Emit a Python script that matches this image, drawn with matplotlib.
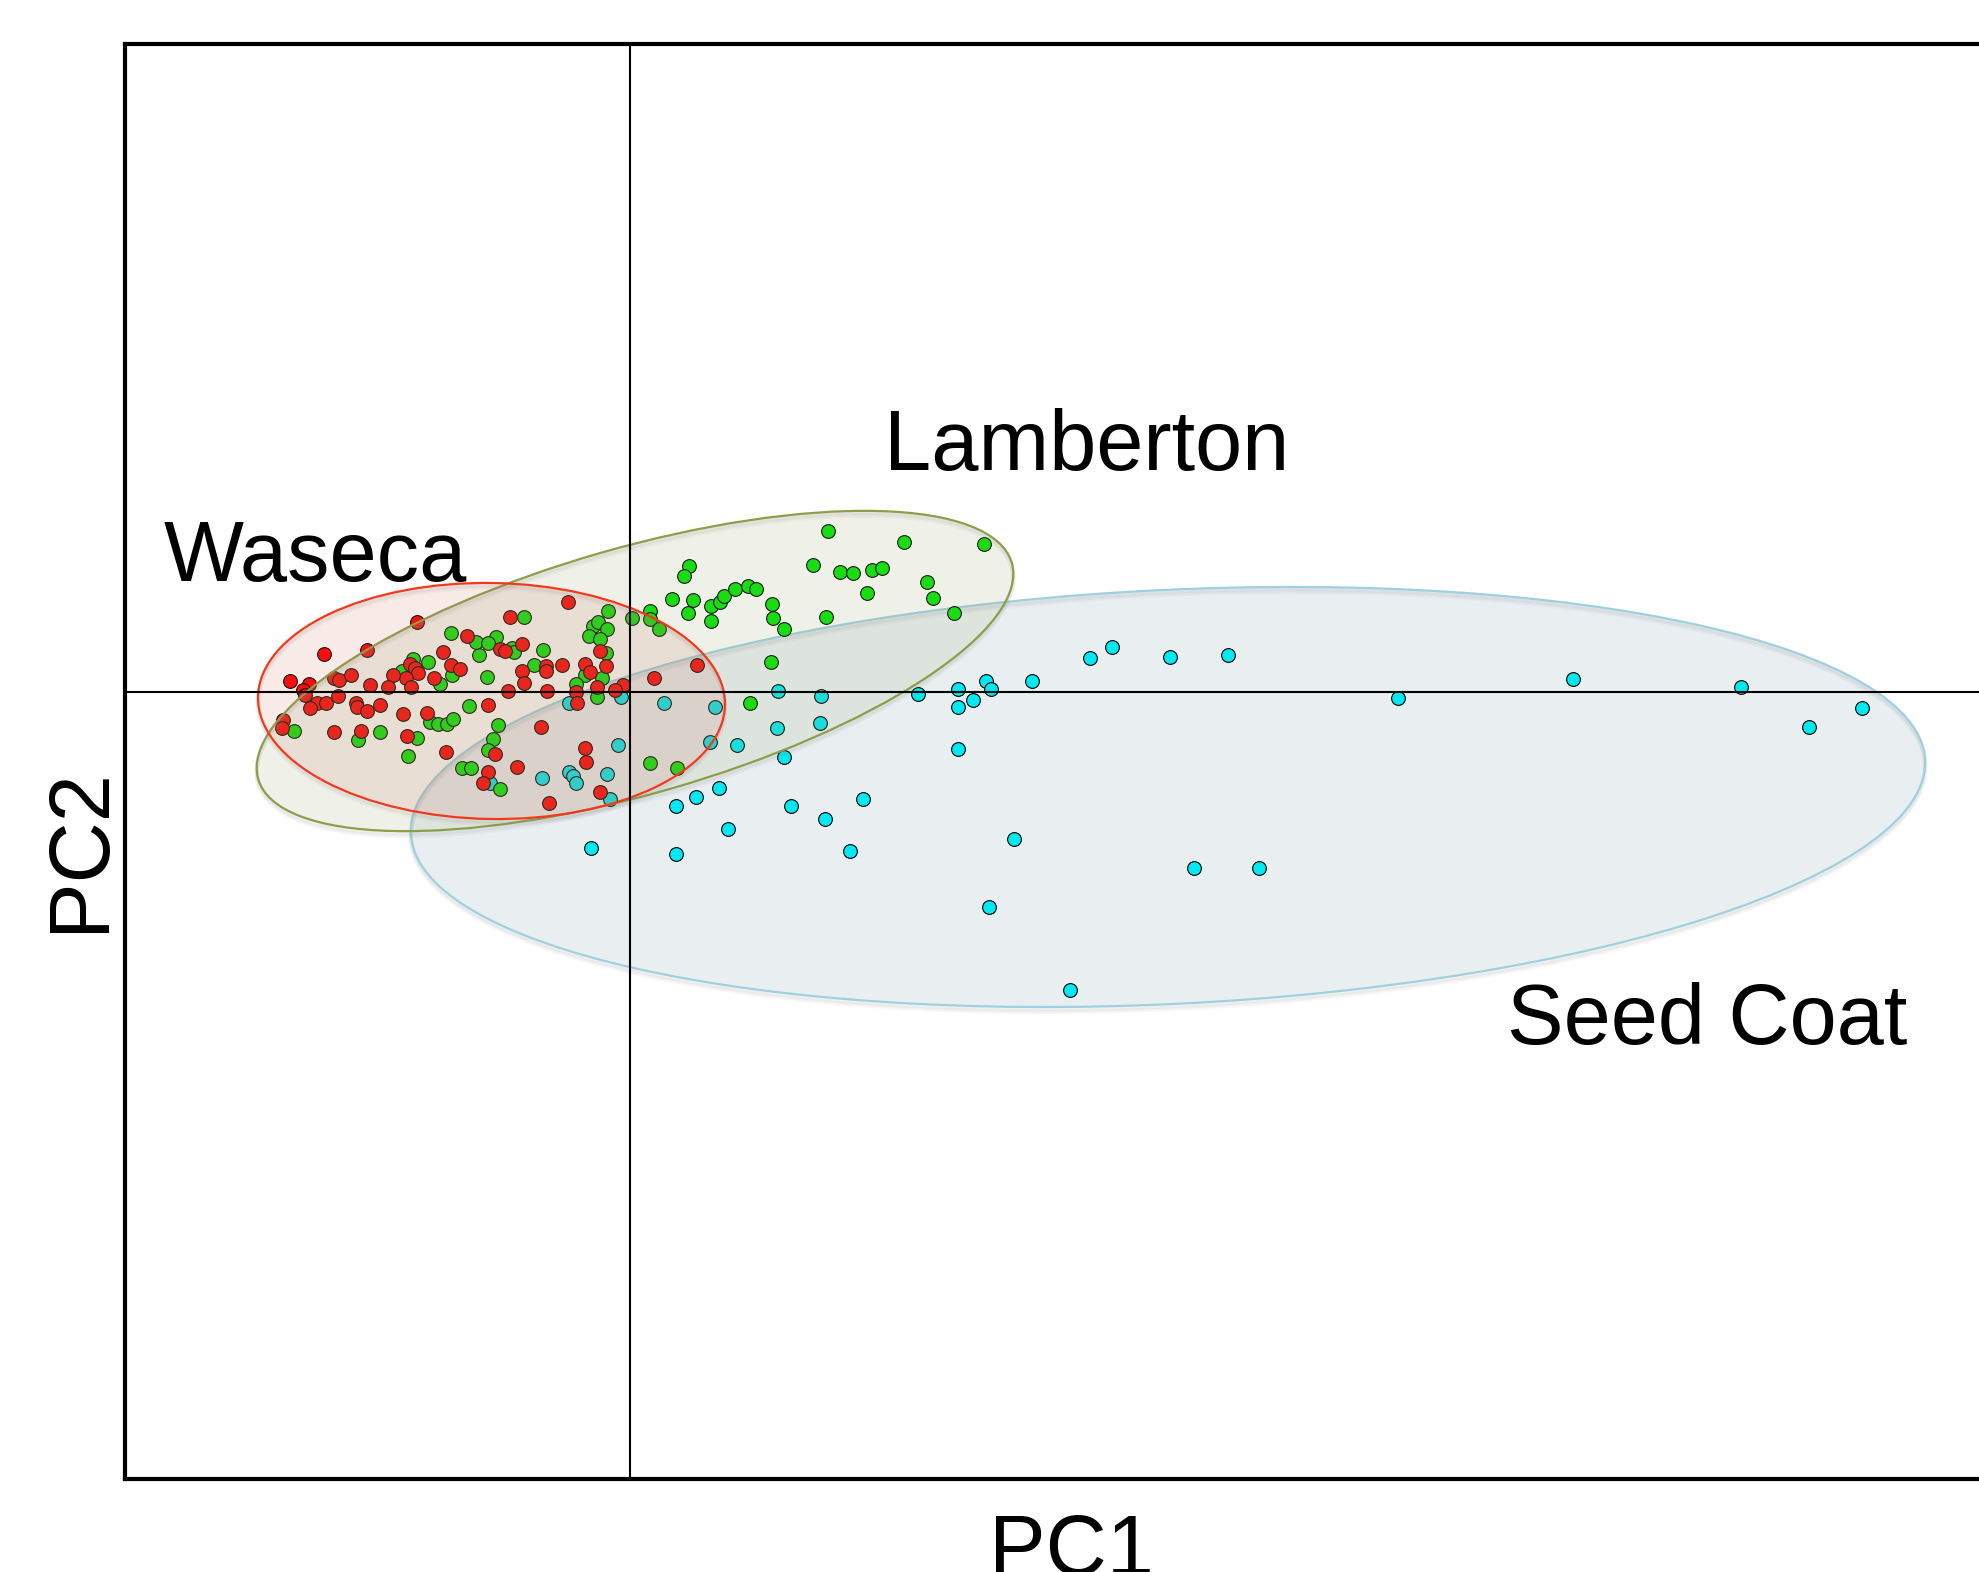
import matplotlib.pyplot as plt
from matplotlib.patches import Ellipse

# PCA scores (arbitrary PC units)
waseca_pc1 = [-0.62, -1.20, -2.13, -3.06, -2.63, -1.87, -1.63, -1.08, -1.30, -1.25,
              -0.30, -2.20, -2.15, -2.12, -1.79, -1.70, -1.96, -2.24, -2.19, -2.37,
              -3.40, -3.21, -2.96, -2.91, -2.79, -2.60, -2.42, -1.08, -0.84, -0.84,
              -0.68, -0.45, -0.40, -0.24, -1.06, -1.22, -0.83, -0.54, -0.33, -0.07,
              -0.15, 0.24, 0.67, -3.27, -3.25, -2.92, -3.13, -3.04, -3.20, -2.74,
              -2.73, -2.63, -2.50, -2.27, -2.03, -1.42, -0.53, -3.47, -3.48, -2.96,
              -2.69, -2.23, -1.84, -0.89, -0.45, -0.44, -1.35, -1.42, -1.47, -1.13,
              -0.30, -0.81]
waseca_pc2 = [0.90, 0.75, 0.70, 0.38, 0.42, 0.40, 0.56, 0.48, 0.43, 0.41,
              0.41, 0.28, 0.24, 0.19, 0.27, 0.23, 0.14, 0.14, 0.05, 0.17,
              0.11, 0.08, 0.14, 0.12, 0.17, 0.07, 0.05, 0.21, 0.26, 0.21,
              0.27, 0.28, 0.20, 0.26, 0.09, 0.01, 0.01, 0.00, 0.05, 0.07,
              0.02, 0.14, 0.27, 0.02, -0.03, -0.04, -0.11, -0.11, -0.16, -0.11,
              -0.15, -0.19, -0.13, -0.22, -0.21, -0.13, -0.11, -0.28, -0.36, -0.40,
              -0.39, -0.44, -0.60, -0.35, -0.56, -0.70, -0.62, -0.80, -0.91, -0.75,
              -1.00, -1.11]

lamberton_pc1 = [-1.79, -1.51, -2.17, -2.02, -2.28, -1.78, -1.90, -1.61, -1.34, -1.54,
                 -1.42, -1.06, -1.18, -1.16, -0.87, -0.22, -0.37, -0.32, -0.23, -0.41,
                 -0.30, -0.24, 0.02, 0.20, 0.20, 0.29, 0.42, 0.58, 0.59, 0.54,
                 0.63, 0.81, 0.90, 0.94, 1.05, 1.18, 1.26, 0.81, -0.96, -0.45,
                 -0.54, -0.28, -1.43, -0.33, -3.36, -2.72, -2.50, -2.13, -2.22, -2.00,
                 -1.92, -1.83, -1.77, -1.68, -1.59, -1.32, -1.37, -1.42, -1.30, 0.20,
                 0.47, 1.20, 1.98, 2.74, 3.54, 1.83, 2.10, 2.23, 2.42, 2.52,
                 2.97, 2.37, 3.03, 1.42, 1.43, 1.54, 1.96, 3.24, 1.41]
lamberton_pc2 = [0.59, 0.37, 0.33, 0.30, 0.21, 0.17, 0.08, -0.14, 0.55, 0.50,
                 0.49, 0.75, 0.44, 0.40, 0.42, 0.81, 0.66, 0.70, 0.63, 0.56,
                 0.53, 0.39, 0.74, 0.81, 0.73, 0.63, 0.93, 0.79, 1.26, 1.16,
                 0.92, 0.86, 0.90, 0.96, 1.03, 1.06, 1.03, 0.71, 0.27, 0.17,
                 0.08, 0.14, 0.15, -0.05, -0.39, -0.48, -0.40, -0.46, -0.64, -0.30,
                 -0.32, -0.32, -0.27, -0.76, -0.76, -0.33, -0.47, -0.58, -0.97, -0.71,
                 -0.76, -0.11, 1.61, 1.50, 1.48, 1.27, 1.20, 1.19, 1.22, 1.24,
                 1.10, 0.99, 0.94, 0.88, 0.74, 0.63, 0.75, 0.79, 0.30]

seedcoat_pc1 = [-0.09, 0.34, -0.61, -0.12, -0.88, -0.61, -0.57, -0.54, -0.23, -1.40,
                -0.20, 0.46, 0.85, 1.48, 1.91, 2.88, 3.28, 3.56, 3.61, 3.28,
                3.43, 1.47, 1.90, 0.80, 1.07, 1.54, 3.28, 0.66, 0.89, 1.61,
                2.33, 1.95, 0.98, -0.39, 0.46, 2.20, 3.84, 3.59, 4.02, 4.60,
                4.82, 5.40, 5.98, 7.68, 9.43, 11.11, 11.79, 12.32, 5.64, 6.29,
                4.40]
seedcoat_pc2 = [-0.05, -0.11, -0.11, -0.53, -0.86, -0.80, -0.84, -0.91, -0.82, -0.91,
                -1.07, -1.14, -0.15, 0.01, -0.04, -0.02, 0.03, 0.11, 0.03, -0.15,
                -0.08, -0.36, -0.31, -0.50, -0.53, -0.65, -0.57, -1.05, -0.96, -1.14,
                -1.07, -1.27, -1.37, -1.56, -1.62, -1.59, -1.47, -2.15, 0.11, 0.34,
                0.45, 0.35, 0.37, -0.06, 0.13, 0.05, -0.35, -0.16, -1.76, -1.76,
                -2.98]

# confidence ellipses: centre, width, height, angle (deg)
seedcoat_ellipse = ((5.38, -1.05), 15.16, 4.14, 2.8)
lamberton_ellipse = ((0.05, 0.21), 7.84, 2.46, 16.0)
waseca_ellipse = ((-1.385, -0.09), 4.67, 2.36, -1.0)


def add_ellipse(ax, params, edge, face, alpha, z):
    """
    Draw a translucent group ellipse with a faint drop shadow.
    """
    (cx, cy), w, h, ang = params
    for k, a in ((0.05, 0.05), (0.035, 0.06), (0.02, 0.07)):
        ax.add_patch(Ellipse((cx, cy - k), w, h, angle=ang, fill=False,
                             edgecolor='#808080', lw=3, alpha=a, zorder=z - 0.5))
    ax.add_patch(Ellipse((cx, cy), w, h, angle=ang, facecolor=face, alpha=alpha,
                         edgecolor='none', zorder=z))
    ax.add_patch(Ellipse((cx, cy), w, h, angle=ang, fill=False, edgecolor=edge,
                         lw=1.6, zorder=z + 0.1))


def pca_chart(outfile):
    fig = plt.figure(figsize=(19.79, 15.72), dpi=100)
    ax = fig.add_axes([125 / 1979, 93 / 1572, 1 - 125 / 1979, 1435 / 1572])

    ax.set_xlim(-5.05, 13.49)
    ax.set_ylim(-7.87, 6.48)

    add_ellipse(ax, seedcoat_ellipse, '#9ed0df', '#8ca5b9', 0.19, 1)

    pt = dict(s=98, edgecolors='black', linewidths=0.8, zorder=2)
    ax.scatter(seedcoat_pc1, seedcoat_pc2, c='#00e8f0', **pt)
    ax.scatter(lamberton_pc1, lamberton_pc2, c='#00e600', **pt)
    ax.scatter(waseca_pc1, waseca_pc2, c='#ff0000', **pt)

    add_ellipse(ax, lamberton_ellipse, '#8c9e48', '#a0aa78', 0.16, 3)
    add_ellipse(ax, waseca_ellipse, '#f2391c', '#c86e5a', 0.14, 4)

    ax.axhline(0, color='black', lw=1.5, zorder=5)
    ax.axvline(0, color='black', lw=1.5, zorder=5)

    font = 'Liberation Sans'
    ax.text(-4.66, 1.11, 'Waseca', fontsize=61, family=font, zorder=6)
    ax.text(2.54, 2.22, 'Lamberton', fontsize=61, family=font, zorder=6)
    ax.text(8.77, -3.52, 'Seed Coat', fontsize=61, family=font, zorder=6)

    fig.text(1071 / 1979, 1 - 1513 / 1572, 'PC1', fontsize=61, family=font,
             ha='center', va='top')
    fig.text(81 / 1979, 1 - 850 / 1572, 'PC2', fontsize=61, family=font,
             ha='center', va='center', rotation=90)

    for side in ('left', 'top', 'bottom'):
        ax.spines[side].set_linewidth(3)
    ax.spines['right'].set_visible(False)
    ax.set_xticks([])
    ax.set_yticks([])

    plt.savefig(outfile, dpi=100)


if __name__ == '__main__':
    pca_chart('out.png')
